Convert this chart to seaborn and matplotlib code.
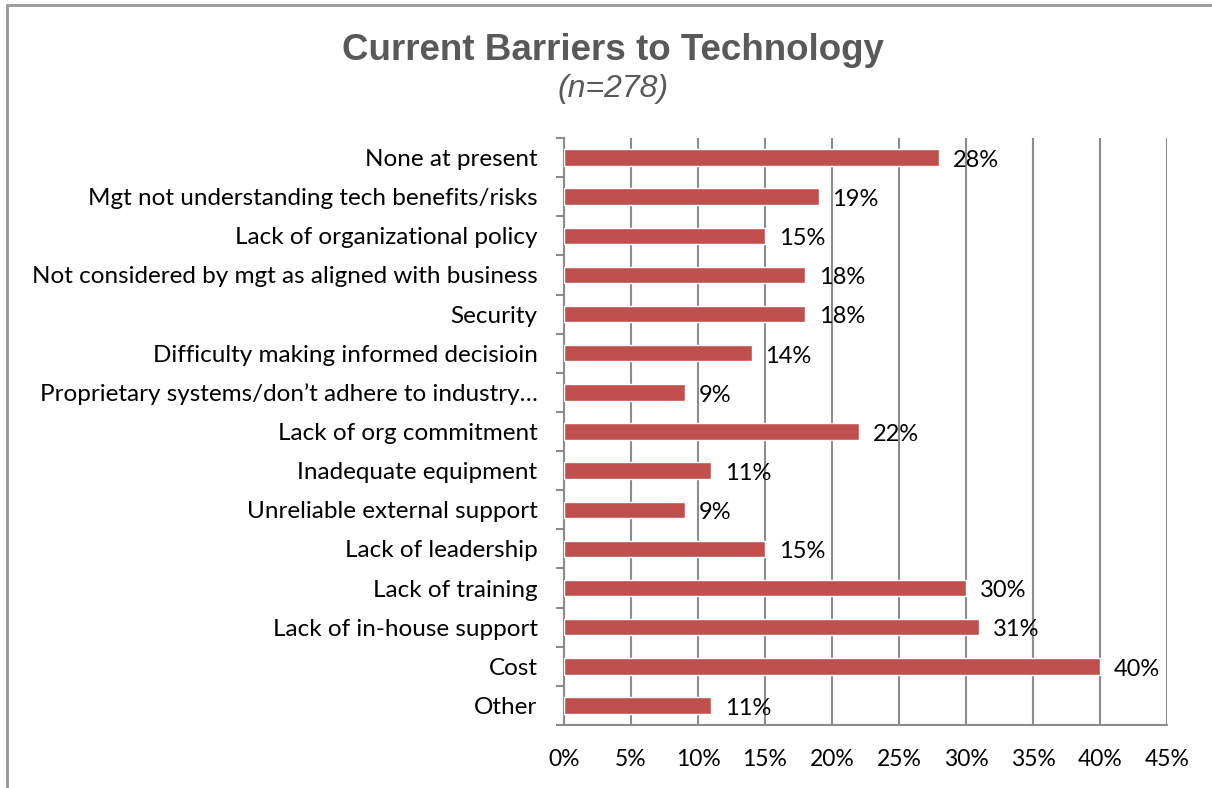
import matplotlib
matplotlib.use("Agg")
import matplotlib.pyplot as plt
import seaborn as sns
import pandas as pd
from matplotlib.lines import Line2D
from matplotlib.ticker import FixedLocator

categories = [
    "None at present",
    "Mgt not understanding tech benefits/risks",
    "Lack of organizational policy",
    "Not considered by mgt as aligned with business",
    "Security",
    "Difficulty making informed decisioin",
    "Proprietary systems/don\u2019t adhere to industry\u2026",
    "Lack of org commitment",
    "Inadequate equipment",
    "Unreliable external support",
    "Lack of leadership",
    "Lack of training",
    "Lack of in-house support",
    "Cost",
    "Other",
]
values = [28, 19, 15, 18, 18, 14, 9, 22, 11, 9, 15, 30, 31, 40, 11]
xticks = [0, 5, 10, 15, 20, 25, 30, 35, 40, 45]
title = "Current Barriers to Technology"
subtitle = "(n=278)"

df = pd.DataFrame({"category": categories, "value": values})

sns.set_theme(style="white")
plt.rcParams["font.family"] = ["Lato", "DejaVu Sans"]

fig = plt.figure(figsize=(12.12, 7.88), dpi=100)
ax = fig.add_axes([564 / 1212, 1 - 725 / 788, (1167 - 564) / 1212, (725 - 138) / 788])

grid_col = "#8C8C8C"
sns.barplot(data=df, x="value", y="category", color="#C0504D", saturation=1,
            width=0.42, ax=ax, orient="h", zorder=3)

ax.set_xlim(0, 45)
ax.set_ylim(len(categories) - 0.5, -0.5)
ax.set_xticks(xticks)
ax.set_xticklabels([f"{t}%" for t in xticks], fontsize=16.5, color="black")
ax.xaxis.grid(True, color=grid_col, linewidth=1.5, zorder=0)
ax.set_axisbelow(True)
ax.set_xlabel("")
ax.set_ylabel("")
ax.tick_params(axis="x", direction="out", length=6, width=1.5, color=grid_col, pad=11)
ax.tick_params(axis="y", which="major", length=0, pad=19, labelsize=17.5, labelcolor="black")
ax.yaxis.set_minor_locator(FixedLocator([i - 0.5 for i in range(len(categories) + 1)]))
ax.tick_params(axis="y", which="minor", direction="out", length=6, width=1.5, color=grid_col, left=True)

for s in ["top", "right"]:
    ax.spines[s].set_visible(False)
for s in ["left", "bottom"]:
    ax.spines[s].set_color(grid_col)
    ax.spines[s].set_linewidth(1.5)

for i, v in enumerate(values):
    ax.annotate(f"{v}%", xy=(v, i), xytext=(10, -2), textcoords="offset points",
                ha="left", va="center", fontsize=17, color="black", zorder=5)

fig.text(613 / 1212, 1 - 50 / 788, title, ha="center", va="center", fontsize=26.5,
         fontweight="bold", color="#595959", family=["Liberation Sans", "DejaVu Sans"])
fig.text(613 / 1212, 1 - 89 / 788, subtitle, ha="center", va="center", fontsize=23,
         style="italic", color="#595959", family=["Liberation Sans", "DejaVu Sans"])

border_col = "#979797"
fig.add_artist(Line2D([7 / 1212, 1], [1 - 5 / 788, 1 - 5 / 788], color=border_col,
                      linewidth=2, transform=fig.transFigure))
fig.add_artist(Line2D([7 / 1212, 7 / 1212], [0, 1 - 5 / 788], color=border_col,
                      linewidth=2, transform=fig.transFigure))

fig.savefig("out.png", dpi=100)
